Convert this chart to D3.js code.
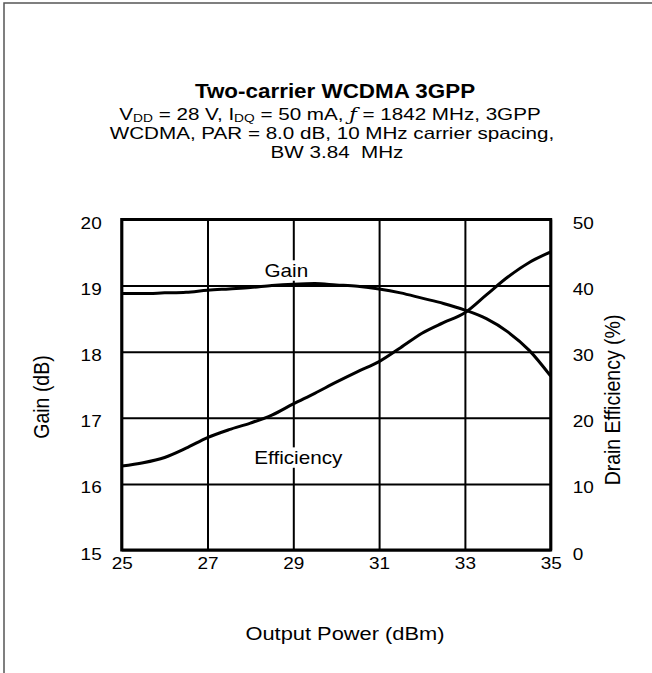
<!DOCTYPE html>
<html>
<head>
<meta charset="utf-8">
<script src="https://cdn.jsdelivr.net/npm/d3@7"></script>
<style>
  body { margin: 0; background: #fff; }
  svg text { font-family: "Liberation Sans", Arial, sans-serif; fill: #000; white-space: pre; }
</style>
</head>
<body>
<script>
'use strict';

// chart size
let width = 652,
  height = 673;

// the reference text is a little wide, so glyphs get stretched sideways
let stretch = 1.15;

// data
let powerOut = [25, 25.5, 26, 26.5, 27, 27.5, 28, 28.5, 29, 29.5, 30, 30.5, 31, 31.5, 32, 32.5, 33, 33.5, 34, 34.5, 35];
let gain = [18.88, 18.88, 18.89, 18.9, 18.93, 18.95, 18.97, 19.0, 19.02, 19.03, 19.01, 18.99, 18.95, 18.89, 18.81, 18.73, 18.63, 18.5, 18.3, 18.02, 17.63];
let efficiency = [12.7, 13.2, 14.0, 15.4, 17.0, 18.2, 19.2, 20.4, 22.1, 23.7, 25.4, 27.0, 28.5, 30.6, 32.8, 34.4, 35.9, 38.6, 41.3, 43.5, 45.1];

let xTicks = [25, 27, 29, 31, 33, 35];
let gainTicks = [15, 16, 17, 18, 19, 20];
let effTicks = [0, 10, 20, 30, 40, 50];

let titleText = "Two-carrier WCDMA 3GPP";
let subLines = ["WCDMA, PAR = 8.0 dB, 10 MHz carrier spacing,", "BW 3.84  MHz"];

// plot box
let plot = { left: 121.7, right: 550.7, top: 219.5, bottom: 550 };

window.onload = function () {
  let svg = d3.select("body")
    .append("svg")
    .attr("width", width)
    .attr("height", height);

  svg.append("rect").attr("width", width).attr("height", height).attr("fill", "#fff");

  // outer frame (only top and left edges are visible)
  svg.append("path")
    .attr("d", "M4," + height + "V3H" + width)
    .attr("fill", "none")
    .attr("stroke", "#555")
    .attr("stroke-width", 1.5);

  let x = d3.scaleLinear().domain([25, 35]).range([plot.left, plot.right]);
  let yGain = d3.scaleLinear().domain([15, 20]).range([plot.bottom, plot.top]);
  let yEff = d3.scaleLinear().domain([0, 50]).range([plot.bottom, plot.top]);

  drawTitle(svg);
  drawGrid(svg, x, yGain, yEff);
  drawCurves(svg, x, yGain, yEff);
  drawLabels(svg, x, yGain, yEff);
}

// places a text at x,y with the sideways stretch
function addText(parent, x, y, size, str, rotate, sx) {
  return parent.append("text")
    .attr("transform", "translate(" + x + "," + y + ") scale(" + (sx || stretch) + ",1)" + (rotate ? " rotate(" + rotate + ")" : ""))
    .attr("text-anchor", "middle")
    .attr("font-size", size)
    .text(str);
}

function drawTitle(svg) {
  addText(svg, 335, 97.5, 19.5, titleText).attr("font-weight", "bold");

  let t = addText(svg, 330, 119.5, 16.5, null, 0, 1.25);
  t.append("tspan").text("V");
  t.append("tspan").attr("font-size", 11).attr("dy", 2.5).text("DD");
  t.append("tspan").attr("dy", -2.5).text(" = 28 V, I");
  t.append("tspan").attr("font-size", 11).attr("dy", 2.5).text("DQ");
  t.append("tspan").attr("dy", -2.5).text(" = 50 mA, ");
  t.append("tspan").attr("font-style", "italic").attr("font-family", "'DejaVu Serif', serif").text("ƒ");
  t.append("tspan").text(" = 1842 MHz, 3GPP");

  subLines.forEach((d, i) => {
    addText(svg, i == 0 ? 332 : 337, 138.5 + i * 19, 16.5, d, 0, 1.25);
  });
}

function drawGrid(svg, x, yGain, yEff) {
  let h = plot.bottom - plot.top,
    w = plot.right - plot.left;

  // vertical grid + bottom labels
  let gx = svg.append("g")
    .attr("transform", "translate(0," + plot.bottom + ")")
    .call(d3.axisBottom(x).tickValues(xTicks).tickSize(-h).tickPadding(7).tickFormat(d3.format("d")));
  gx.select(".domain").remove();
  gx.selectAll("line").attr("stroke", "#000").attr("stroke-width", 2);
  gx.selectAll("text").attr("font-size", 16.5).attr("dy", "0.71em")
    .attr("transform", "scale(" + stretch + ",1)");

  // horizontal grid + left labels
  let gy = svg.append("g")
    .attr("transform", "translate(" + plot.left + ",0)")
    .call(d3.axisLeft(yGain).tickValues(gainTicks).tickSize(-w).tickPadding(20).tickFormat(d3.format("d")));
  gy.select(".domain").remove();
  gy.selectAll("line").attr("stroke", "#000").attr("stroke-width", 2);
  gy.selectAll("text").attr("font-size", 16.5).attr("dy", 9)
    .attr("x", -20 / stretch)
    .attr("transform", "scale(" + stretch + ",1)");

  // right labels
  let gr = svg.append("g")
    .attr("transform", "translate(" + plot.right + ",0)")
    .call(d3.axisRight(yEff).tickValues(effTicks).tickSize(0).tickPadding(22).tickFormat(d3.format("d")));
  gr.select(".domain").remove();
  gr.selectAll("text").attr("font-size", 16.5).attr("dy", 9)
    .attr("x", 22 / stretch)
    .attr("transform", "scale(" + stretch + ",1)");

  svg.selectAll(".tick text").attr("fill", "#000").attr("font-family", "'Liberation Sans', Arial, sans-serif");

  // plot border
  svg.append("rect")
    .attr("x", plot.left).attr("y", plot.top)
    .attr("width", w).attr("height", h)
    .attr("fill", "none")
    .attr("stroke", "#000")
    .attr("stroke-width", 3);

  // axis titles
  addText(svg, 49, 397, 19.5, "Gain (dB)", -90);
  addText(svg, 620, 400, 19.5, "Drain Efficiency (%)", -90);
  addText(svg, 345, 640, 19, "Output Power (dBm)");
}

function drawCurves(svg, x, yGain, yEff) {
  let gainLine = d3.line()
    .x((d, i) => x(powerOut[i]))
    .y(d => yGain(d))
    .curve(d3.curveMonotoneX);

  let effLine = d3.line()
    .x((d, i) => x(powerOut[i]))
    .y(d => yEff(d))
    .curve(d3.curveMonotoneX);

  svg.append("path")
    .attr("d", gainLine(gain))
    .attr("fill", "none")
    .attr("stroke", "#000")
    .attr("stroke-width", 3);

  svg.append("path")
    .attr("d", effLine(efficiency))
    .attr("fill", "none")
    .attr("stroke", "#000")
    .attr("stroke-width", 3);
}

// series labels with a white box that hides the grid behind them
function drawLabels(svg, x, yGain, yEff) {
  let labels = [
    { text: "Gain", cx: x(29) - 7, base: yGain(19.13) },
    { text: "Efficiency", cx: x(29) + 5, base: yEff(13.0) }
  ];

  labels.forEach(l => {
    let g = svg.append("g")
      .attr("transform", "translate(" + l.cx + "," + l.base + ") scale(" + stretch + ",1)");
    let t = g.append("text")
      .attr("text-anchor", "middle")
      .attr("font-size", 18)
      .text(l.text);
    let b = t.node().getBBox();
    g.insert("rect", () => t.node())
      .attr("x", b.x - 1).attr("y", b.y)
      .attr("width", b.width + 2).attr("height", b.height)
      .attr("fill", "#fff");
  });
}
</script>
</body>
</html>
